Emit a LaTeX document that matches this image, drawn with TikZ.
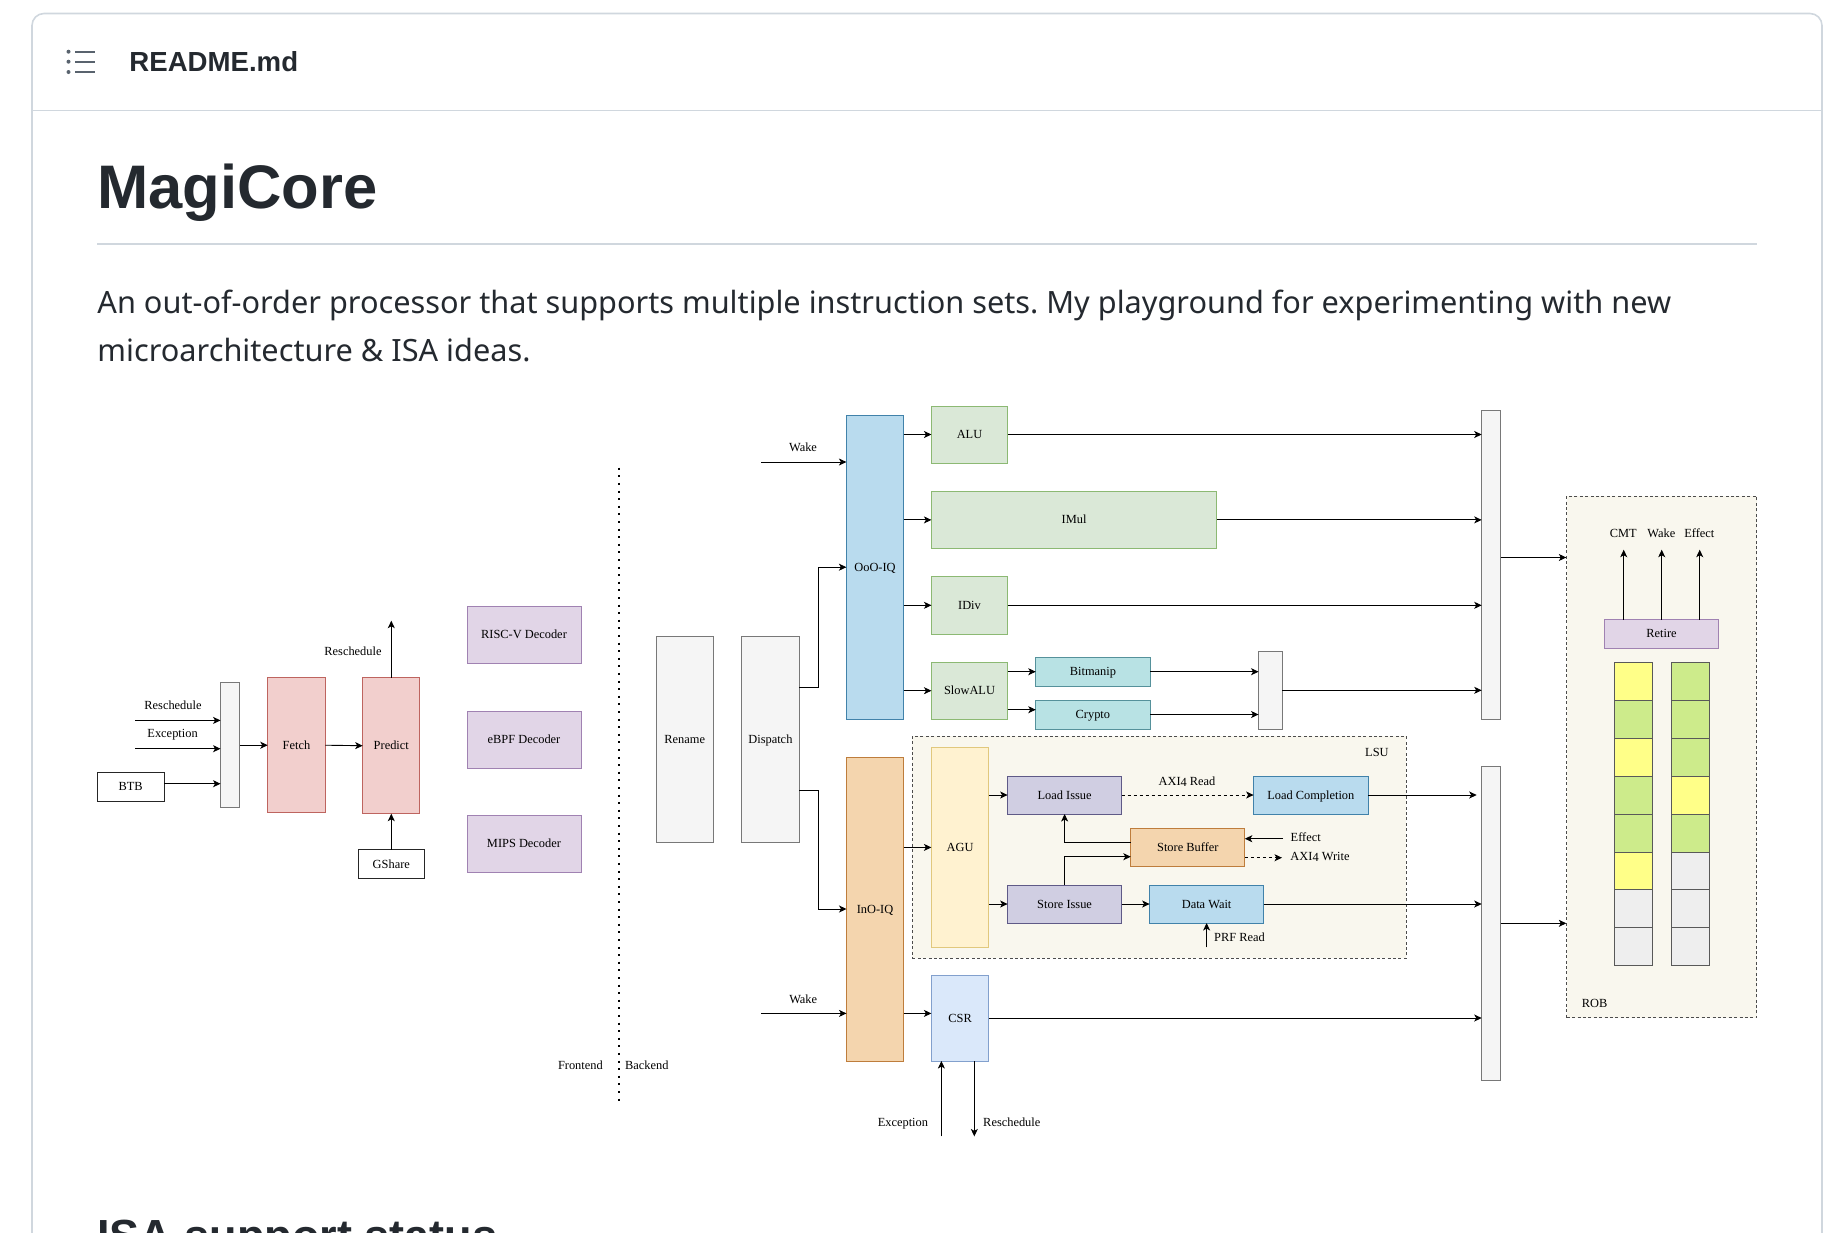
\documentclass[tikz,border=0pt]{standalone}
\usepackage{fontspec}
\setmainfont{Liberation Serif}
\newfontfamily\uifont{Noto Sans}
\newfontfamily\headfont{Liberation Sans}
\frenchspacing
\usetikzlibrary{arrows.meta,calc,positioning}
\definecolor{ghline}{HTML}{D0D7DE}
\definecolor{ghtext}{HTML}{24292F}
\definecolor{ghicon}{HTML}{59636E}
\definecolor{robyellow}{HTML}{FFFF88}
\definecolor{robgreen}{HTML}{CDEB8B}
\definecolor{robgray}{HTML}{EEEEEE}
\tikzset{
  sz/.style 2 args = {minimum width=#1pt, minimum height=#2pt},
  core schemes/.style = {
    x=1pt, y=-1pt,
    line width = 0.9pt,
    % Cell
    sn/.style = {draw, inner sep=0pt, outer sep=0pt, text height=8pt, text depth=0pt,
      font=\fontsize{12.4}{14}\selectfont, text=black},
    lbl/.style = {inner sep=0pt, text height=8pt, text depth=0pt,
      font=\fontsize{12.4}{14}\selectfont},
    % Coloured cells
    gysn/.style = {sn, draw={rgb,255:red,120;green,120;blue,120}, fill={rgb,255:red,245;green,245;blue,245}},
    wsn/.style  = {sn, draw=black!85, fill=white},
    rsn/.style  = {sn, draw={rgb,255:red,190;green,100;blue,95}, fill={rgb,255:red,242;green,207;blue,205}},
    psn/.style  = {sn, draw={rgb,255:red,160;green,130;blue,178}, fill={rgb,255:red,225;green,213;blue,231}},
    bsn/.style  = {sn, draw={rgb,255:red,65;green,130;blue,170}, fill={rgb,255:red,185;green,219;blue,238}},
    gsn/.style  = {sn, draw={rgb,255:red,140;green,185;blue,115}, fill={rgb,255:red,218;green,232;blue,215}},
    tsn/.style  = {sn, draw={rgb,255:red,85;green,145;blue,155}, fill={rgb,255:red,184;green,226;blue,228}},
    osn/.style  = {sn, draw={rgb,255:red,190;green,125;blue,60}, fill={rgb,255:red,244;green,213;blue,174}},
    ysn/.style  = {sn, draw={rgb,255:red,225;green,200;blue,125}, fill={rgb,255:red,255;green,242;blue,208}},
    lsn/.style  = {sn, draw={rgb,255:red,130;green,160;blue,205}, fill={rgb,255:red,218;green,232;blue,250}},
    dsn/.style  = {sn, draw={rgb,255:red,95;green,90;blue,135}, fill={rgb,255:red,208;green,206;blue,226}},
    % Panels
    panel/.style = {draw=black!70, fill={rgb,255:red,249;green,247;blue,238},
      dash pattern=on 3pt off 2.4pt, line width=0.8pt},
    rowcell/.style = {draw=black!65, line width=0.9pt, minimum width=38.3pt,
      minimum height=38pt, inner sep=0pt, outer sep=0pt},
    % Lines, arrows
    connect line/.style = {-{Stealth[length=7.5pt,width=7pt,inset=2pt]}},
    dash line/.style    = {connect line, dash pattern=on 3pt off 3pt},
  }
}
\begin{document}
\begin{tikzpicture}[core schemes]
\useasboundingbox (0,0) rectangle (1830,1232);
\clip (0,0) rectangle (1830,1232);

% page
\draw[ghline, line width=1.6pt, rounded corners=12pt]
	(32,1300) -- (32,13.5) -- (1822,13.5) -- (1822,1300);
\coordinate (headline-l) at (32,110.7);
\coordinate (headline-r) at (1822,110.7);
\draw[ghline, line width=1.4pt] (headline-l) -- (headline-r);
\foreach \y in {51.7,61.7,72} {
	\fill[ghicon] (68.5,\y) circle (2pt);
	\draw[ghicon, line width=2.2pt] (75,\y) -- (95,\y);
}
\node[anchor=base west, inner sep=0pt, text=ghtext, font=\headfont\bfseries\fontsize{27.6}{30}\selectfont]
	(readme) at (129,71) {README.md};
\node[anchor=base west, inner sep=0pt, text=ghtext, font=\headfont\bfseries\fontsize{61.5}{70}\selectfont]
	(title) at (97,208) {MagiCore};
\coordinate (rule-l) at (97,244);
\coordinate (rule-r) at (1757,244);
\draw[ghline, line width=1.5pt] (rule-l) -- (rule-r);
\node[anchor=base west, inner sep=0pt, text=ghtext, font=\uifont\fontsize{30.7}{36}\selectfont]
	(intro-1) at (97,313) {An out-of-order processor that supports multiple instruction sets. My playground for experimenting with new};
\node[anchor=base west, inner sep=0pt, text=ghtext, font=\uifont\fontsize{30.7}{36}\selectfont]
	(intro-2) at (97,361) {microarchitecture \& ISA ideas.};
\node[anchor=base west, inner sep=0pt, text=ghtext, font=\headfont\bfseries\fontsize{45}{48}\selectfont]
	(status) at (97,1251) {ISA support status};

\begin{scope}[shift={(0,0.7)}]
% panels
\node[panel, inner sep=0pt, minimum width=493.7pt, minimum height=222.4pt] (lsu) at (1159.2,846.5) {};
\node[panel, inner sep=0pt, minimum width=190pt, minimum height=521.7pt] (rob) at (1661.7,756.3) {};

% frontend
\node[gysn, sz={19.3}{125}]   (mux-in)  at (230.2,744.5) {};
\node[rsn,  sz={57.5}{135}]   (fetch)   at (296.5,744.5) {Fetch};
\node[rsn,  sz={57.2}{136}]   (predict) at (391.3,745) {Predict};
\node[wsn,  sz={66.8}{28.6}]  (btb)     at (130.6,786) {BTB};
\node[wsn,  sz={66.5}{28.7}]  (gshare)  at (391.3,863.3) {GShare};
\node[psn,  sz={114}{57}]     (riscv)   at (524,634.2) {RISC-V Decoder};
\node[psn,  sz={114}{57}]     (ebpf)    at (524,738.8) {eBPF Decoder};
\node[psn,  sz={114}{57}]     (mips)    at (524,843) {MIPS Decoder};

\coordinate (resched-in) at (135,719.7);
\coordinate (except-in)  at (135,748);
\coordinate (resched-up) at (391.3,620);
\draw[connect line] (resched-in) -- (resched-in -| mux-in.west);
\draw[connect line] (except-in) -- (except-in -| mux-in.west);
\draw[connect line] (btb.east |- 0,783) -- (mux-in.west |- 0,783);
\draw[connect line] (mux-in.east) -- (fetch.west);
\draw[connect line] (fetch.east) -- (predict.west);
\draw[connect line] (predict.north) -- (resched-up);
\draw[connect line] (gshare.north) -- (predict.south);
\node[lbl] (lbl-resched1) at (173,705) {Reschedule};
\node[lbl] (lbl-except1)  at (172.6,733) {Exception};
\node[lbl] (lbl-resched2) at (353,651) {Reschedule};

% divider
\coordinate (split-top) at (618.6,467);
\coordinate (split-bot) at (618.6,1100);
\draw[line width=2pt, dash pattern=on 2pt off 5.6pt] (split-top) -- (split-bot);
\node[lbl] (lbl-front) at (580.4,1064.5) {Frontend};
\node[lbl] (lbl-back)  at (646.8,1064.5) {Backend};

% backend
\node[gysn, sz={57}{205.6}]  (rename)   at (684.7,738.8) {Rename};
\node[gysn, sz={57.2}{205.6}] (dispatch) at (770.4,738.8) {Dispatch};
\node[bsn, sz={57.2}{303.6}] (ooo) at (875,566.5) {OoO-IQ};
\node[osn, sz={57}{304}]     (ino) at (875,908.3) {InO-IQ};
\node[gsn, sz={76.1}{57}] (alu)     at (969.5,433.8) {ALU};
\node[gsn, sz={285.4}{57}] (imul)   at (1074.1,519.2) {IMul};
\node[gsn, sz={76.1}{57.3}] (idiv)  at (969.5,604.6) {IDiv};
\node[gsn, sz={76.1}{56.6}] (slowalu) at (969.5,690) {SlowALU};
\node[tsn, sz={114.3}{28.6}] (bitmanip) at (1092.9,671) {Bitmanip};
\node[tsn, sz={114.3}{29}]  (crypto)   at (1092.9,713.8) {Crypto};
\node[gysn, sz={23.9}{77.3}] (mux-slow) at (1270.5,689.6) {};
\node[gysn, sz={19}{309.4}]  (mux-a)    at (1491.2,564.3) {};
\node[gysn, sz={19}{313.8}]  (mux-b)    at (1491.2,922.6) {};

\node[ysn, sz={57.4}{200}] (agu)    at (960.1,846.7) {AGU};
\node[dsn, sz={114}{38}] (loadiss)  at (1064.6,794.3) {Load Issue};
\node[dsn, sz={114}{38}] (storeiss) at (1064.6,903.3) {Store Issue};
\node[bsn, sz={114.4}{38}] (loadcmp) at (1310.8,794.3) {Load Completion};
\node[osn, sz={114}{38.4}] (storebuf) at (1187.8,846.5) {Store Buffer};
\node[bsn, sz={114}{38}] (datawait) at (1206.6,903.3) {Data Wait};
\node[lsn, sz={57.4}{86}] (csr) at (960.1,1017.3) {CSR};
\node[lbl] (lbl-lsu) at (1376.9,751.5) {LSU};

% queues
\coordinate (wake-a) at (761.4,461.3);
\coordinate (wake-b) at (761.4,1012.7);
\draw[connect line] (wake-a) -- (wake-a -| ooo.west);
\draw[connect line] (wake-b) -- (wake-b -| ino.west);
\node[lbl] (lbl-wake1) at (803,447) {Wake};
\node[lbl] (lbl-wake2) at (803.2,998.5) {Wake};
\coordinate (disp-a) at (799,687);
\coordinate (disp-b) at (799,790);
\draw[connect line] (disp-a) -- (818,687) |- (ooo.west);
\draw[connect line] (disp-b) -- (818,790) |- (ino.west);

\draw[connect line] (ooo.east |- alu) -- (alu.west);
\draw[connect line] (ooo.east |- imul) -- (imul.west);
\draw[connect line] (ooo.east |- idiv) -- (idiv.west);
\draw[connect line] (ooo.east |- slowalu) -- (slowalu.west);
\draw[connect line] (alu.east) -- (alu.east -| mux-a.west);
\draw[connect line] (imul.east) -- (imul.east -| mux-a.west);
\draw[connect line] (idiv.east) -- (idiv.east -| mux-a.west);
\draw[connect line] (slowalu.east |- bitmanip) -- (bitmanip.west);
\draw[connect line] (slowalu.east |- 0,709) -- (crypto.west |- 0,709);
\draw[connect line] (bitmanip.east) -- (bitmanip.east -| mux-slow.west);
\draw[connect line] (crypto.east) -- (crypto.east -| mux-slow.west);
\draw[connect line] (mux-slow.east) -- (mux-slow.east -| mux-a.west);

% load/store unit
\draw[connect line] (ino.east |- agu) -- (agu.west);
\draw[connect line] (ino.east |- 0,1012.7) -- (csr.west |- 0,1012.7);
\draw[connect line] (agu.east |- loadiss) -- (loadiss.west);
\draw[connect line] (agu.east |- storeiss) -- (storeiss.west);
\draw[dash line] (loadiss.east) -- (loadcmp.west);
\draw[connect line] (storeiss.east) -- (datawait.west);
\draw[connect line] (storebuf.west |- 0,842) -| (loadiss.south);
\draw[connect line] (storeiss.north) |- (storebuf.west |- 0,856);
\coordinate (effect-in)  at (1283,838);
\coordinate (axi-out)    at (1282,857);
\coordinate (prf-in)     at (1206.6,946.7);
\coordinate (load-out)   at (1476.7,794.3);
\draw[connect line] (effect-in) -- (effect-in -| storebuf.east);
\draw[dash line] (storebuf.east |- axi-out) -- (axi-out);
\draw[connect line] (prf-in) -- (datawait.south);
\draw[connect line] (loadcmp.east) -- (load-out);
\draw[connect line] (datawait.east) -- (datawait.east -| mux-b.west);
\draw[connect line] (csr.east) -- (csr.east -| mux-b.west);
\node[lbl] (lbl-axir)   at (1187,780.5) {AXI\raisebox{-1.5pt}{4} Read};
\node[lbl] (lbl-effect) at (1305.7,836.5) {Effect};
\node[lbl] (lbl-axiw)   at (1320,855.5) {AXI\raisebox{-1.5pt}{4} Write};
\node[lbl] (lbl-prf)    at (1239.5,936.5) {PRF Read};

% csr
\coordinate (except-up)  at (941.4,1135.7);
\coordinate (resched-dn) at (974.3,1135.7);
\draw[connect line] (except-up) -- (except-up |- csr.south);
\draw[connect line] (resched-dn |- csr.south) -- (resched-dn);
\node[lbl] (lbl-except2)  at (902.9,1121.3) {Exception};
\node[lbl] (lbl-resched3) at (1011.8,1121.3) {Reschedule};

% rob
\draw[connect line] (mux-a.east |- 0,556.8) -- (rob.west |- 0,556.8);
\draw[connect line] (mux-b.east) -- (rob.west |- mux-b.east);
\node[psn, sz={114.4}{28.5}] (retire) at (1661.5,633.2) {Retire};
\foreach \name/\xpos/\cols in {
	left/1633.2/{yellow,green,yellow,green,green,yellow,gray,gray},
	right/1690.2/{green,green,green,yellow,green,gray,gray,gray}}
	\foreach \c [count=\i] in \cols
		\node[rowcell, fill=rob\c] (\name-\i) at (\xpos,661.4+19+37.97*\i-37.97) {};
\coordinate (cmt-top)    at (1623.7,549);
\coordinate (wake-top)   at (1661.7,549);
\coordinate (effect-top) at (1699.7,549);
\draw[connect line] (cmt-top |- retire.north) -- (cmt-top);
\draw[connect line] (wake-top |- retire.north) -- (wake-top);
\draw[connect line] (effect-top |- retire.north) -- (effect-top);
\node[lbl] (lbl-cmt)   at (1623.3,533) {CMT};
\node[lbl] (lbl-wake3) at (1661.3,533) {Wake};
\node[lbl] (lbl-eff)   at (1699.3,533) {Effect};
\node[lbl] (lbl-rob)   at (1594.7,1002.5) {ROB};
\end{scope}
\end{tikzpicture}
\end{document}
